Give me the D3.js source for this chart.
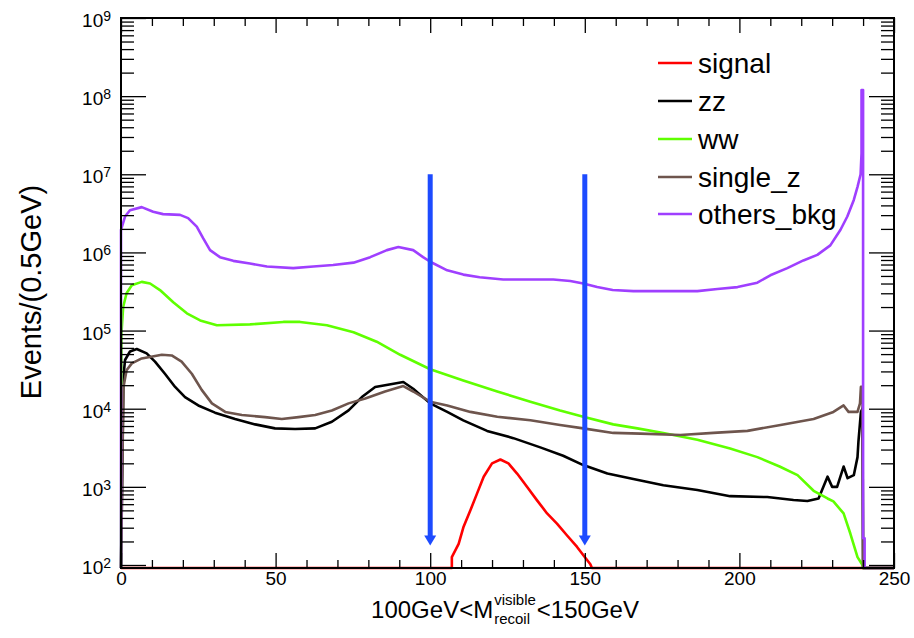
<!DOCTYPE html>
<html><head><meta charset="utf-8">
<script src="https://cdn.jsdelivr.net/npm/d3@7"></script>
<style>
body{margin:0;background:#fff;}
svg{display:block;font-family:"Liberation Sans",Arial,Helvetica,sans-serif;}
</style></head><body>
<svg id="c" width="914" height="638"></svg>
<script>
// ---------------- data ----------------
const xDomain = [0, 250];
const yDomain = [91.5, 1e9];
const xMajorTicks = [0, 50, 100, 150, 200, 250];
const xMinorTicks = [10,20,30,40,60,70,80,90,110,120,130,140,160,170,180,190,210,220,230,240];
const yMajorTicks = [1e2, 1e3, 1e4, 1e5, 1e6, 1e7, 1e8, 1e9];
const yTickExponents = ["2","3","4","5","6","7","8","9"];
const legendNames = ["signal", "zz", "ww", "single_z", "others_bkg"];
const seriesColors = ["#ff0000", "#000000", "#5fff00", "#6e554d", "#9f3fff"];
const cutValues = [100, 150];
const arrowRange = [1e7, 178];

const signalX = [0,107,107,109.2,110.8,113,115.1,117.3,120,122.7,125.3,128.1,131.3,134.5,137.8,141,144.2,147.5,149.6,151.8,152.3,250];
const signalY = [0,0,126,186,309,501,813,1349,1995,2239,1995,1479,1000,676,457,339,240,170,132,102,0,0];

const zzX = [0,0.8,1.3,2.9,5.1,8.3,11,14.2,17.5,20.7,25,30.4,36.9,43.4,49.8,56.3,62.8,68.2,73.6,77.9,82.2,85.4,91.3,94.5,100,105.5,110.7,118.4,126.9,135.6,143,149.5,157.3,165.7,175.4,186.4,197,209,217.5,222,225.6,228.5,230,231.6,233.7,235,237,238.2,238.5,239.3,239.8,240,250];
const zzY = [0,2.6e4,4.2e4,5.4e4,5.8e4,5.1e4,4.0e4,2.8e4,1.9e4,1.41e4,1.1e4,8.9e3,7.4e3,6.3e3,5.6e3,5.5e3,5.6e3,6.8e3,9.5e3,1.41e4,1.9e4,2.0e4,2.2e4,1.8e4,1.17e4,9.1e3,7.1e3,5.2e3,4.2e3,3.2e3,2.5e3,1.9e3,1.48e3,1.26e3,1.05e3,910,760,740,680,660,710,1350,1000,1000,1820,1290,1410,2400,3800,9100,1.0e4,0,0];

const wwX = [0,0.2,0.7,1.8,3.5,6.7,9.4,12.6,16.9,21.3,25.6,31,41.7,52.5,57.9,66.6,75.2,82.7,90.3,100,110.7,121.7,132.4,142,149.5,159.2,167,175.4,186.4,197,205.8,213,218.8,224,228.5,230.4,233.7,235.9,238.2,239.8,240,250];
const wwY = [0,1.0e5,2.0e5,3.0e5,3.8e5,4.2e5,4.0e5,3.3e5,2.3e5,1.66e5,1.35e5,1.17e5,1.2e5,1.29e5,1.29e5,1.17e5,9.5e4,7.2e4,4.9e4,3.2e4,2.3e4,1.66e4,1.23e4,9.5e3,7.9e3,6.3e3,5.6e3,4.9e3,4.0e3,3.1e3,2.4e3,1.82e3,1.41e3,890,710,650,457,251,126,100,0,0];

const singleZX = [0,0.8,1.8,3.5,6.7,13.2,16.4,19.6,22.9,26.1,29.4,33.7,39.1,46.6,52,57.4,62.8,68.2,73.6,79,85.4,91.3,94.5,100,105.5,113,121.7,132.4,142,149.5,159.2,168,180.9,191.6,202.6,213.3,224,230.4,233.7,235.3,238.2,239,239.3,239.8,240,250];
const singleZY = [0,1.9e4,3.1e4,3.8e4,4.4e4,4.9e4,4.8e4,4.0e4,2.8e4,1.74e4,1.17e4,9.1e3,8.3e3,7.8e3,7.4e3,7.8e3,8.3e3,9.5e3,1.17e4,1.35e4,1.66e4,1.95e4,1.66e4,1.23e4,1.1e4,9.1e3,7.9e3,7.1e3,6.2e3,5.6e3,4.9e3,4.8e3,4.6e3,4.9e3,5.2e3,6.2e3,7.4e3,9.1e3,1.1e4,9.1e3,9.1e3,1.17e4,1.9e4,1.9e4,0,0];

const othersX = [0,0,1.3,2.9,6.7,10.4,13.6,19.1,21.7,24.5,26.6,28.8,32,36.3,41.7,47.2,55.7,62.2,68.6,75.2,80.6,86,89.7,94.5,97.7,100,105.5,110.7,116,123.6,132.4,139.8,145.3,149.5,154,159,165.7,175.4,186.4,192.9,199.4,205.8,210,215.5,220.7,225.2,229.4,232.7,234.9,237,238.2,239.2,239.5,239.5,240,240,240.5,240.5,250];
const othersY = [0,1.95e6,2.88e6,3.47e6,3.8e6,3.31e6,3.09e6,3.02e6,2.75e6,2.14e6,1.51e6,1.07e6,8.7e5,7.8e5,7.2e5,6.6e5,6.3e5,6.6e5,6.9e5,7.4e5,8.7e5,1.07e6,1.17e6,1.07e6,8.7e5,7.6e5,5.9e5,5.2e5,4.8e5,4.5e5,4.5e5,4.5e5,4.3e5,4.0e5,3.6e5,3.3e5,3.2e5,3.2e5,3.2e5,3.4e5,3.6e5,4.1e5,5.1e5,6.3e5,7.9e5,9.3e5,1.23e6,1.95e6,2.88e6,4.7e6,6.9e6,1.0e7,1.86e7,1.2e8,1.2e8,220,220,0,0];

// ---------------- layout ----------------
const X0 = 121, X1 = 894, Y0 = 18, Y1 = 568;
const svg = d3.select("#c");
const x = d3.scaleLinear().domain(xDomain).range([X0, X1]);
const y = d3.scaleLog().domain(yDomain).range([Y1, Y0]);
const yc = v => v > yDomain[0] ? y(Math.min(v, yDomain[1])) : Y1;

// minor log ticks
const yMinorTicks = [];
for (let e = 2; e < 9; e++) for (let k = 2; k <= 9; k++) yMinorTicks.push(k * Math.pow(10, e));

// series
const series = [
  {x: signalX, y: signalY},
  {x: zzX, y: zzY},
  {x: wwX, y: wwY},
  {x: singleZX, y: singleZY},
  {x: othersX, y: othersY}
];
const line = d3.line().curve(d3.curveLinear);
series.forEach((s, i) => {
  const pts = s.x.map((xv, j) => [x(xv), yc(s.y[j])]);
  svg.append("path").attr("d", line(pts)).attr("fill", "none")
    .attr("stroke", seriesColors[i]).attr("stroke-width", 2.6)
    .attr("stroke-linejoin", "round");
});

// axes (ticks inside, on all four sides)
function styleAxis(g) {
  g.select(".domain").remove();
  g.selectAll(".tick line").attr("stroke", "#000").attr("stroke-width", 1.3);
}
// bottom
svg.append("g").attr("transform", `translate(0,${Y1})`)
  .call(d3.axisBottom(x).tickValues(xMajorTicks).tickSize(-15).tickPadding(4).tickFormat(d3.format("d")))
  .call(styleAxis)
  .call(g => g.selectAll("text").attr("font-size", 19).attr("fill", "#000").attr("font-family", "Liberation Sans, Arial, sans-serif"));
svg.append("g").attr("transform", `translate(0,${Y1})`)
  .call(d3.axisBottom(x).tickValues(xMinorTicks).tickSize(-8).tickFormat(""))
  .call(styleAxis);
// top
svg.append("g").attr("transform", `translate(0,${Y0})`)
  .call(d3.axisTop(x).tickValues(xMajorTicks).tickSize(-15).tickFormat(""))
  .call(styleAxis);
svg.append("g").attr("transform", `translate(0,${Y0})`)
  .call(d3.axisTop(x).tickValues(xMinorTicks).tickSize(-8).tickFormat(""))
  .call(styleAxis);
// left
svg.append("g").attr("transform", `translate(${X0},0)`)
  .call(d3.axisLeft(y).tickValues(yMajorTicks).tickSize(-25).tickFormat(""))
  .call(styleAxis);
svg.append("g").attr("transform", `translate(${X0},0)`)
  .call(d3.axisLeft(y).tickValues(yMinorTicks).tickSize(-13).tickFormat(""))
  .call(styleAxis);
// right
svg.append("g").attr("transform", `translate(${X1},0)`)
  .call(d3.axisRight(y).tickValues(yMajorTicks).tickSize(-25).tickFormat(""))
  .call(styleAxis);
svg.append("g").attr("transform", `translate(${X1},0)`)
  .call(d3.axisRight(y).tickValues(yMinorTicks).tickSize(-13).tickFormat(""))
  .call(styleAxis);

// y tick labels 10^n
yMajorTicks.forEach((v, i) => {
  const t = svg.append("text").attr("x", 111).attr("y", y(v) + 9)
    .attr("text-anchor", "end").attr("font-size", 19).attr("fill", "#000");
  t.append("tspan").text("10");
  t.append("tspan").attr("dy", -6).attr("font-size", 14).text(yTickExponents[i]);
});

// frame
svg.append("rect").attr("x", X0).attr("y", Y0).attr("width", X1 - X0).attr("height", Y1 - Y0)
  .attr("fill", "none").attr("stroke", "#000").attr("stroke-width", 2);

// cut arrows
cutValues.forEach(c => {
  const cx = x(c), yTop = y(arrowRange[0]), yTip = y(arrowRange[1]);
  svg.append("line").attr("x1", cx).attr("x2", cx).attr("y1", yTop).attr("y2", yTip - 8)
    .attr("stroke", "#1d4bff").attr("stroke-width", 5);
  svg.append("path").attr("d", `M${cx - 6},${yTip - 10}L${cx + 6},${yTip - 10}L${cx},${yTip}Z`)
    .attr("fill", "#1d4bff");
});

// legend
const legRows = [63, 101, 139, 177, 214];
legendNames.forEach((n, i) => {
  svg.append("line").attr("x1", 658).attr("x2", 692).attr("y1", legRows[i]).attr("y2", legRows[i])
    .attr("stroke", seriesColors[i]).attr("stroke-width", 2.6);
  svg.append("text").attr("x", 698).attr("y", legRows[i] + 9.5).attr("font-size", 28)
    .attr("fill", "#000").text(n);
});

// y title
svg.append("text").attr("transform", "translate(41,292) rotate(-90)")
  .attr("text-anchor", "middle").attr("font-size", 29).attr("fill", "#000")
  .text("Events/(0.5GeV)");

// x title with stacked sup/sub
const xt = svg.append("g");
const base = 618;
const p1 = xt.append("text").attr("x", 0).attr("y", base).attr("font-size", 24).text("100GeV<M");
const w1 = p1.node().getComputedTextLength();
const sup = xt.append("text").attr("x", w1 + 1).attr("y", base - 13).attr("font-size", 15).text("visible");
const sub = xt.append("text").attr("x", w1 + 1).attr("y", base + 6).attr("font-size", 15).text("recoil");
const ws = Math.max(sup.node().getComputedTextLength(), sub.node().getComputedTextLength());
const p3 = xt.append("text").attr("x", w1 + ws + 2).attr("y", base).attr("font-size", 24).text("<150GeV");
const total = w1 + ws + 2 + p3.node().getComputedTextLength();
xt.attr("transform", `translate(${505 - total / 2},0)`).attr("fill", "#000");
</script>
</body></html>
